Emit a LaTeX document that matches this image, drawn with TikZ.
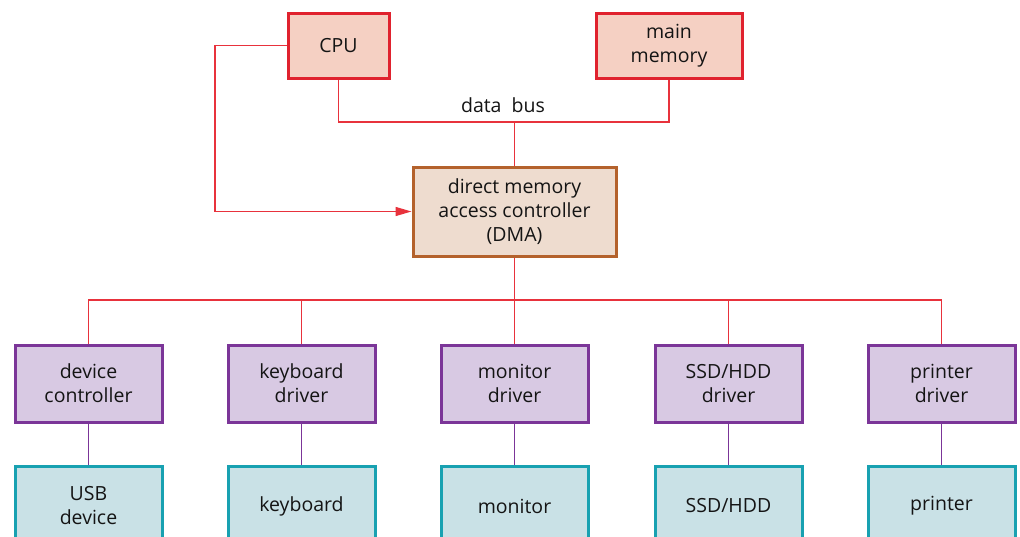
\documentclass[tikz,border=0pt]{standalone}
\usepackage{fontspec}
\setmainfont{Open Sans}
\usetikzlibrary{arrows.meta}
\definecolor{redB}{HTML}{E0222E}
\definecolor{redF}{HTML}{F5D0C3}
\definecolor{brnB}{HTML}{B4622C}
\definecolor{brnF}{HTML}{EEDCCF}
\definecolor{purB}{HTML}{7B3598}
\definecolor{purF}{HTML}{D8C9E3}
\definecolor{tealB}{HTML}{18A1B1}
\definecolor{tealF}{HTML}{C9E1E6}
\definecolor{redL}{HTML}{E8323C}
\tikzset{
  x=1pt, y=-1pt,
  box/.style={draw, line width=3pt, rectangle, align=center, inner sep=0pt,
    font=\fontsize{19.5}{24}\selectfont, text=black!92},
  cpubox/.style={box, draw=redB, fill=redF, minimum height=65pt},
  dmabox/.style={box, draw=brnB, fill=brnF, minimum width=203pt, minimum height=89pt},
  drvbox/.style={box, draw=purB, fill=purF, minimum width=147pt, minimum height=77pt},
  devbox/.style={box, draw=tealB, fill=tealF, minimum width=147pt, minimum height=80pt},
  redline/.style={draw=redL, line width=1.4pt},
  purline/.style={draw=purB, line width=1.4pt},
}
\begin{document}
\begin{tikzpicture}
\useasboundingbox (0,0) rectangle (1020,536);
\clip (0,0) rectangle (1020,536);
\node[cpubox, minimum width=101pt] (cpu) at (338.5,45.5) {CPU};
\node[cpubox, minimum width=146pt] (mem) at (669,45.5) {main\\memory};
\node[dmabox] (dma) at (514.5,211.5) {direct memory\\access controller\\(DMA)};
\coordinate (bus) at (514.5,122);
\node[font=\fontsize{19.5}{24}\selectfont, text=black!92] (buslbl) at (503,105) {data\ \ bus};
\draw[redline] (cpu.south) |- (bus) -| (mem.south);
\draw[redline] (bus) -- (dma.north);
\coordinate (cl) at (215,45.5);
\draw[redline, -{Triangle[length=16pt,width=9pt]}] (cpu.west) -- (cl) |- (dma.west);
\coordinate (hub) at (514.5,300);
\foreach \n/\x/\a/\b in {d1/88.5/{device\\controller}/{USB\\device},
                         d2/301.5/{keyboard\\driver}/{keyboard},
                         d3/514.5/{monitor\\driver}/{monitor},
                         d4/728.5/{SSD/HDD\\driver}/{SSD/HDD},
                         d5/941.5/{printer\\driver}/{printer}} {
  \node[drvbox] (\n) at (\x,383.5) {\a};
  \node[devbox] (\n b) at (\x,506) {\b};
  \draw[purline] (\n.south) -- (\n b.north);
  \draw[redline] (hub) -| (\n.north);
}
\draw[redline] (dma.south) -- (hub);
\end{tikzpicture}
\end{document}
